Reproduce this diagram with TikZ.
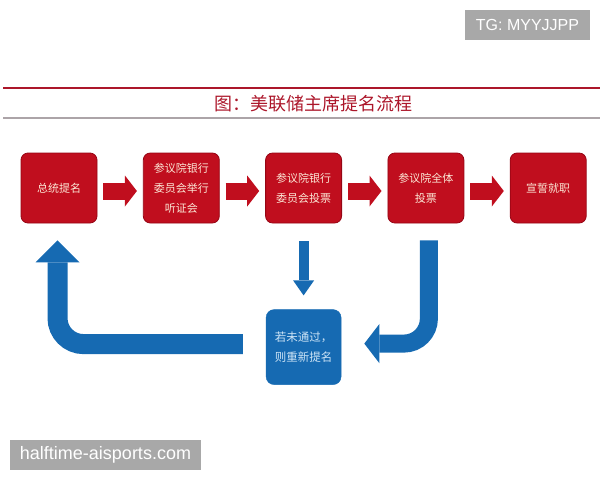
\documentclass[tikz,border=0pt]{standalone}
\usepackage{fontspec}
\newfontfamily\cjk{Noto Sans CJK SC}
\newfontfamily\wmfont{Liberation Sans}
\usepackage{xcolor}
\usetikzlibrary{arrows.meta, positioning}

\definecolor{boxred}{RGB}{192,14,30}
\definecolor{edgered}{RGB}{150,5,20}
\definecolor{titlered}{RGB}{172,22,42}
\definecolor{flowblue}{RGB}{22,106,178}
\definecolor{paleblue}{RGB}{205,228,246}
\definecolor{cream}{RGB}{252,232,214}
\definecolor{rulegray}{RGB}{172,164,168}
\definecolor{markgray}{RGB}{168,168,168}

\begin{document}
\begin{tikzpicture}[
    x=1pt, y=-1pt,
    node distance=86pt and 45.5pt,
    stepbox/.style={rectangle, draw=edgered, line width=0.8pt, fill=boxred, minimum width=76pt, minimum height=70pt, inner sep=0pt, align=center, rounded corners=7pt, text=cream, font=\cjk\fontsize{11}{20}\selectfont},
    retrybox/.style={rectangle, draw=flowblue, fill=flowblue, minimum width=75pt, minimum height=75pt, inner sep=0pt, align=center, rounded corners=8pt, text=paleblue, font=\cjk\fontsize{11.5}{20}\selectfont},
    redarrow/.style={draw=boxred, line width=17pt, -{Triangle[width=31pt, length=12pt, line width=0pt]}},
    bluearrow/.style={draw=flowblue},
    watermark/.style={rectangle, fill=markgray, text=white, inner sep=0pt, minimum height=30pt},
]
\useasboundingbox (0,0) rectangle (600,480);

% title and rules
\draw[titlered, line width=2pt] (3,88) -- (600,88);
\draw[rulegray, line width=2pt] (3,118) -- (600,118);
\node[text=titlered, font=\cjk\fontsize{18}{18}\selectfont] (title) at (313,104) {图：美联储主席提名流程};

% steps
\node[stepbox] (b1) at (59,188) {总统提名};
\node[stepbox, right=of b1] (b2) {参议院银行\\委员会举行\\听证会};
\node[stepbox, right=of b2] (b3) {参议院银行\\委员会投票};
\node[stepbox, right=of b3] (b4) {参议院全体\\投票};
\node[stepbox, right=of b4] (b5) {宣誓就职};

\node[retrybox, below=of b3] (b6) {若未通过，\\则重新提名};

\draw[redarrow] ([xshift=6pt, yshift=-3pt]b1.east) -- ([xshift=-6pt, yshift=-3pt]b2.west);
\draw[redarrow] ([xshift=6pt, yshift=-3pt]b2.east) -- ([xshift=-6pt, yshift=-3pt]b3.west);
\draw[redarrow] ([xshift=6pt, yshift=-3pt]b3.east) -- ([xshift=-6pt, yshift=-3pt]b4.west);
\draw[redarrow] ([xshift=6pt, yshift=-3pt]b4.east) -- ([xshift=-6pt, yshift=-3pt]b5.west);

% failed vote goes back
\draw[bluearrow, line width=10pt, -{Triangle[width=21pt, length=15pt, line width=0pt]}] ([yshift=-18pt]b3.south) -- ([yshift=14pt]b6.north);
\draw[bluearrow, line width=18pt, rounded corners=25pt, -{Triangle[width=39pt, length=15pt, line width=0pt]}] ([xshift=3pt, yshift=-17pt]b4.south) |- ([xshift=23pt, yshift=3.5pt]b6.east);
\draw[bluearrow, line width=20pt, rounded corners=26pt, -{Triangle[width=44pt, length=22pt, line width=0pt]}] ([xshift=-23pt, yshift=3pt]b6.west) -| ([xshift=-1.5pt, yshift=-17pt]b1.south);

% watermarks
\node[watermark, minimum width=125pt, font=\wmfont\fontsize{16}{16}\selectfont] (tg) at (527.5,25) {TG: MYYJJPP};
\node[watermark, minimum width=191pt, font=\wmfont\fontsize{18}{18}\selectfont] (site) at (105.5,455) {halftime-aisports.com};

\end{tikzpicture}
\end{document}
